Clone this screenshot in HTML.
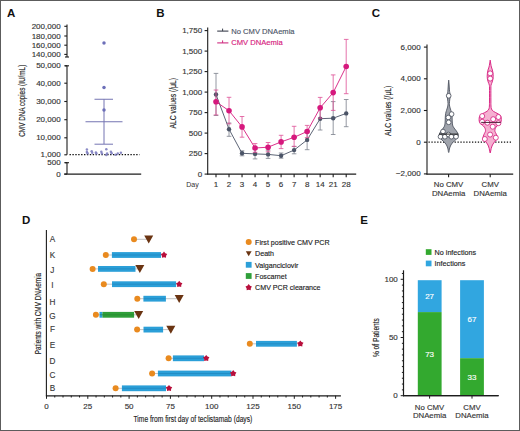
<!DOCTYPE html>
<html><head><meta charset="utf-8"><title>Figure</title>
<style>
html,body{margin:0;padding:0;background:#fff;}
body{width:520px;height:431px;overflow:hidden;font-family:"Liberation Sans", sans-serif;}
svg{display:block;}
svg text{font-family:"Liberation Sans", sans-serif;}
</style></head>
<body>
<svg width="520" height="431" viewBox="0 0 520 431">
<rect x="0" y="0" width="520" height="431" fill="#fff"/>
<text x="7.00" y="16.70" font-size="11.5" text-anchor="start" fill="#111" font-weight="bold" >A</text>
<text x="156.20" y="16.80" font-size="11.5" text-anchor="start" fill="#111" font-weight="bold" >B</text>
<text x="371.70" y="16.50" font-size="11.5" text-anchor="start" fill="#111" font-weight="bold" >C</text>
<text x="22.00" y="224.00" font-size="11.5" text-anchor="start" fill="#111" font-weight="bold" >D</text>
<text x="360.30" y="223.80" font-size="11.5" text-anchor="start" fill="#111" font-weight="bold" >E</text>
<line x1="67.00" y1="24.50" x2="67.00" y2="57.00" stroke="#1c1c1c" stroke-width="1.1" />
<line x1="65.00" y1="57.00" x2="69.00" y2="57.00" stroke="#1c1c1c" stroke-width="1.1" />
<line x1="67.00" y1="65.80" x2="67.00" y2="154.80" stroke="#1c1c1c" stroke-width="1.1" />
<line x1="65.00" y1="65.80" x2="69.00" y2="65.80" stroke="#1c1c1c" stroke-width="1.1" />
<line x1="67.00" y1="162.70" x2="67.00" y2="174.10" stroke="#1c1c1c" stroke-width="1.1" />
<line x1="65.00" y1="162.70" x2="69.00" y2="162.70" stroke="#1c1c1c" stroke-width="1.1" />
<line x1="64.30" y1="174.20" x2="141.20" y2="174.20" stroke="#1c1c1c" stroke-width="1.2" />
<line x1="64.30" y1="26.30" x2="67.00" y2="26.30" stroke="#1c1c1c" stroke-width="1.1" />
<text x="60.60" y="28.90" font-size="8" text-anchor="end" fill="#333" font-weight="normal" stroke="#333" stroke-width="0.14" >200,000</text>
<line x1="64.30" y1="36.00" x2="67.00" y2="36.00" stroke="#1c1c1c" stroke-width="1.1" />
<text x="60.60" y="38.60" font-size="8" text-anchor="end" fill="#333" font-weight="normal" stroke="#333" stroke-width="0.14" >180,000</text>
<line x1="64.30" y1="45.20" x2="67.00" y2="45.20" stroke="#1c1c1c" stroke-width="1.1" />
<text x="60.60" y="47.80" font-size="8" text-anchor="end" fill="#333" font-weight="normal" stroke="#333" stroke-width="0.14" >160,000</text>
<line x1="64.30" y1="54.40" x2="67.00" y2="54.40" stroke="#1c1c1c" stroke-width="1.1" />
<text x="60.60" y="57.00" font-size="8" text-anchor="end" fill="#333" font-weight="normal" stroke="#333" stroke-width="0.14" >140,000</text>
<line x1="64.30" y1="65.80" x2="67.00" y2="65.80" stroke="#1c1c1c" stroke-width="1.1" />
<text x="60.60" y="68.40" font-size="8" text-anchor="end" fill="#333" font-weight="normal" stroke="#333" stroke-width="0.14" >50,000</text>
<line x1="64.30" y1="83.20" x2="67.00" y2="83.20" stroke="#1c1c1c" stroke-width="1.1" />
<text x="60.60" y="85.80" font-size="8" text-anchor="end" fill="#333" font-weight="normal" stroke="#333" stroke-width="0.14" >40,000</text>
<line x1="64.30" y1="101.50" x2="67.00" y2="101.50" stroke="#1c1c1c" stroke-width="1.1" />
<text x="60.60" y="104.10" font-size="8" text-anchor="end" fill="#333" font-weight="normal" stroke="#333" stroke-width="0.14" >30,000</text>
<line x1="64.30" y1="119.70" x2="67.00" y2="119.70" stroke="#1c1c1c" stroke-width="1.1" />
<text x="60.60" y="122.30" font-size="8" text-anchor="end" fill="#333" font-weight="normal" stroke="#333" stroke-width="0.14" >20,000</text>
<line x1="64.30" y1="137.80" x2="67.00" y2="137.80" stroke="#1c1c1c" stroke-width="1.1" />
<text x="60.60" y="140.40" font-size="8" text-anchor="end" fill="#333" font-weight="normal" stroke="#333" stroke-width="0.14" >10,000</text>
<line x1="64.30" y1="154.80" x2="67.00" y2="154.80" stroke="#1c1c1c" stroke-width="1.1" />
<text x="60.60" y="157.40" font-size="8" text-anchor="end" fill="#333" font-weight="normal" stroke="#333" stroke-width="0.14" >1,000</text>
<line x1="64.30" y1="162.70" x2="67.00" y2="162.70" stroke="#1c1c1c" stroke-width="1.1" />
<text x="60.60" y="165.30" font-size="8" text-anchor="end" fill="#333" font-weight="normal" stroke="#333" stroke-width="0.14" >500</text>
<line x1="64.30" y1="174.10" x2="67.00" y2="174.10" stroke="#1c1c1c" stroke-width="1.1" />
<text x="60.60" y="176.70" font-size="8" text-anchor="end" fill="#333" font-weight="normal" stroke="#333" stroke-width="0.14" >0</text>
<text transform="translate(25.40,100.75) rotate(-90)" x="0" y="0" font-size="8.8" text-anchor="middle" fill="#222" stroke="#222" stroke-width="0.15" textLength="72" lengthAdjust="spacingAndGlyphs">CMV DNA copies (IU/mL)</text>
<line x1="69.50" y1="154.60" x2="139.50" y2="154.60" stroke="#111" stroke-width="1.4" stroke-dasharray="1.4 1.5"/>
<line x1="104.00" y1="99.25" x2="104.00" y2="144.00" stroke="#7474b2" stroke-width="1.0" />
<line x1="94.50" y1="99.25" x2="113.00" y2="99.25" stroke="#7474b2" stroke-width="1.0" />
<line x1="94.50" y1="144.20" x2="113.00" y2="144.20" stroke="#7474b2" stroke-width="1.0" />
<line x1="85.50" y1="121.75" x2="122.50" y2="121.75" stroke="#7474b2" stroke-width="1.0" />
<circle cx="104" cy="43" r="1.75" fill="#6c6fb8"/>
<circle cx="104" cy="87.5" r="1.75" fill="#6c6fb8"/>
<circle cx="104" cy="110" r="1.75" fill="#6c6fb8"/>
<circle cx="86.9" cy="149.5" r="1.25" fill="#7f80c0" opacity="0.9"/>
<circle cx="86.9" cy="151.9" r="1.25" fill="#7f80c0" opacity="0.9"/>
<circle cx="87.6" cy="153.2" r="1.25" fill="#7f80c0" opacity="0.9"/>
<circle cx="91.7" cy="151.3" r="1.25" fill="#7f80c0" opacity="0.9"/>
<circle cx="92.2" cy="152.8" r="1.25" fill="#7f80c0" opacity="0.9"/>
<circle cx="95.9" cy="152.5" r="1.25" fill="#7f80c0" opacity="0.9"/>
<circle cx="96.4" cy="153.6" r="1.25" fill="#7f80c0" opacity="0.9"/>
<circle cx="101.3" cy="151.7" r="1.25" fill="#7f80c0" opacity="0.9"/>
<circle cx="101.9" cy="153.4" r="1.25" fill="#7f80c0" opacity="0.9"/>
<circle cx="106.3" cy="149.2" r="1.25" fill="#7f80c0" opacity="0.9"/>
<circle cx="106.3" cy="155.0" r="1.25" fill="#7f80c0" opacity="0.9"/>
<circle cx="107.1" cy="153.4" r="1.25" fill="#7f80c0" opacity="0.9"/>
<circle cx="110.9" cy="151.7" r="1.25" fill="#7f80c0" opacity="0.9"/>
<circle cx="111.7" cy="153.2" r="1.25" fill="#7f80c0" opacity="0.9"/>
<circle cx="115.5" cy="154.8" r="1.25" fill="#7f80c0" opacity="0.9"/>
<circle cx="117.8" cy="153.6" r="1.25" fill="#7f80c0" opacity="0.9"/>
<circle cx="120.9" cy="152.8" r="1.25" fill="#7f80c0" opacity="0.9"/>
<line x1="207.70" y1="27.50" x2="207.70" y2="174.60" stroke="#1c1c1c" stroke-width="1.1" />
<line x1="207.20" y1="174.10" x2="356.20" y2="174.10" stroke="#1c1c1c" stroke-width="1.2" />
<line x1="204.60" y1="174.10" x2="207.70" y2="174.10" stroke="#1c1c1c" stroke-width="1.1" />
<text x="202.20" y="176.95" font-size="8" text-anchor="end" fill="#333" font-weight="normal" stroke="#333" stroke-width="0.14" >0</text>
<line x1="204.60" y1="153.60" x2="207.70" y2="153.60" stroke="#1c1c1c" stroke-width="1.1" />
<text x="202.20" y="156.45" font-size="8" text-anchor="end" fill="#333" font-weight="normal" stroke="#333" stroke-width="0.14" >250</text>
<line x1="204.60" y1="133.10" x2="207.70" y2="133.10" stroke="#1c1c1c" stroke-width="1.1" />
<text x="202.20" y="135.95" font-size="8" text-anchor="end" fill="#333" font-weight="normal" stroke="#333" stroke-width="0.14" >500</text>
<line x1="204.60" y1="112.60" x2="207.70" y2="112.60" stroke="#1c1c1c" stroke-width="1.1" />
<text x="202.20" y="115.45" font-size="8" text-anchor="end" fill="#333" font-weight="normal" stroke="#333" stroke-width="0.14" >750</text>
<line x1="204.60" y1="92.10" x2="207.70" y2="92.10" stroke="#1c1c1c" stroke-width="1.1" />
<text x="202.20" y="94.95" font-size="8" text-anchor="end" fill="#333" font-weight="normal" stroke="#333" stroke-width="0.14" >1,000</text>
<line x1="204.60" y1="71.60" x2="207.70" y2="71.60" stroke="#1c1c1c" stroke-width="1.1" />
<text x="202.20" y="74.45" font-size="8" text-anchor="end" fill="#333" font-weight="normal" stroke="#333" stroke-width="0.14" >1,250</text>
<line x1="204.60" y1="51.10" x2="207.70" y2="51.10" stroke="#1c1c1c" stroke-width="1.1" />
<text x="202.20" y="53.95" font-size="8" text-anchor="end" fill="#333" font-weight="normal" stroke="#333" stroke-width="0.14" >1,500</text>
<line x1="204.60" y1="30.60" x2="207.70" y2="30.60" stroke="#1c1c1c" stroke-width="1.1" />
<text x="202.20" y="33.45" font-size="8" text-anchor="end" fill="#333" font-weight="normal" stroke="#333" stroke-width="0.14" >1,750</text>
<line x1="216.00" y1="174.10" x2="216.00" y2="177.20" stroke="#1c1c1c" stroke-width="1.1" />
<text x="216.00" y="187.30" font-size="8" text-anchor="middle" fill="#333" font-weight="normal" stroke="#333" stroke-width="0.14" >1</text>
<line x1="229.02" y1="174.10" x2="229.02" y2="177.20" stroke="#1c1c1c" stroke-width="1.1" />
<text x="229.02" y="187.30" font-size="8" text-anchor="middle" fill="#333" font-weight="normal" stroke="#333" stroke-width="0.14" >2</text>
<line x1="242.04" y1="174.10" x2="242.04" y2="177.20" stroke="#1c1c1c" stroke-width="1.1" />
<text x="242.04" y="187.30" font-size="8" text-anchor="middle" fill="#333" font-weight="normal" stroke="#333" stroke-width="0.14" >3</text>
<line x1="255.06" y1="174.10" x2="255.06" y2="177.20" stroke="#1c1c1c" stroke-width="1.1" />
<text x="255.06" y="187.30" font-size="8" text-anchor="middle" fill="#333" font-weight="normal" stroke="#333" stroke-width="0.14" >4</text>
<line x1="268.08" y1="174.10" x2="268.08" y2="177.20" stroke="#1c1c1c" stroke-width="1.1" />
<text x="268.08" y="187.30" font-size="8" text-anchor="middle" fill="#333" font-weight="normal" stroke="#333" stroke-width="0.14" >5</text>
<line x1="281.10" y1="174.10" x2="281.10" y2="177.20" stroke="#1c1c1c" stroke-width="1.1" />
<text x="281.10" y="187.30" font-size="8" text-anchor="middle" fill="#333" font-weight="normal" stroke="#333" stroke-width="0.14" >6</text>
<line x1="294.12" y1="174.10" x2="294.12" y2="177.20" stroke="#1c1c1c" stroke-width="1.1" />
<text x="294.12" y="187.30" font-size="8" text-anchor="middle" fill="#333" font-weight="normal" stroke="#333" stroke-width="0.14" >7</text>
<line x1="307.14" y1="174.10" x2="307.14" y2="177.20" stroke="#1c1c1c" stroke-width="1.1" />
<text x="307.14" y="187.30" font-size="8" text-anchor="middle" fill="#333" font-weight="normal" stroke="#333" stroke-width="0.14" >8</text>
<line x1="320.16" y1="174.10" x2="320.16" y2="177.20" stroke="#1c1c1c" stroke-width="1.1" />
<text x="320.16" y="187.30" font-size="8" text-anchor="middle" fill="#333" font-weight="normal" stroke="#333" stroke-width="0.14" >14</text>
<line x1="333.18" y1="174.10" x2="333.18" y2="177.20" stroke="#1c1c1c" stroke-width="1.1" />
<text x="333.18" y="187.30" font-size="8" text-anchor="middle" fill="#333" font-weight="normal" stroke="#333" stroke-width="0.14" >21</text>
<line x1="346.20" y1="174.10" x2="346.20" y2="177.20" stroke="#1c1c1c" stroke-width="1.1" />
<text x="346.20" y="187.30" font-size="8" text-anchor="middle" fill="#333" font-weight="normal" stroke="#333" stroke-width="0.14" >28</text>
<text x="186.2" y="187.3" font-size="8" fill="#333" textLength="12.6" lengthAdjust="spacingAndGlyphs">Day</text>
<text transform="translate(175.60,103.25) rotate(-90)" x="0" y="0" font-size="8.8" text-anchor="middle" fill="#222" stroke="#222" stroke-width="0.15" textLength="50.5" lengthAdjust="spacingAndGlyphs">ALC values (/μL)</text>
<line x1="216.00" y1="73.40" x2="216.00" y2="115.50" stroke="#7a7f8a" stroke-width="0.8" />
<line x1="213.70" y1="73.40" x2="218.30" y2="73.40" stroke="#7a7f8a" stroke-width="0.8" />
<line x1="213.70" y1="115.50" x2="218.30" y2="115.50" stroke="#7a7f8a" stroke-width="0.8" />
<line x1="229.02" y1="123.00" x2="229.02" y2="136.30" stroke="#7a7f8a" stroke-width="0.8" />
<line x1="226.72" y1="123.00" x2="231.32" y2="123.00" stroke="#7a7f8a" stroke-width="0.8" />
<line x1="226.72" y1="136.30" x2="231.32" y2="136.30" stroke="#7a7f8a" stroke-width="0.8" />
<line x1="242.04" y1="150.80" x2="242.04" y2="155.80" stroke="#7a7f8a" stroke-width="0.8" />
<line x1="239.74" y1="150.80" x2="244.34" y2="150.80" stroke="#7a7f8a" stroke-width="0.8" />
<line x1="239.74" y1="155.80" x2="244.34" y2="155.80" stroke="#7a7f8a" stroke-width="0.8" />
<line x1="255.06" y1="149.00" x2="255.06" y2="158.90" stroke="#7a7f8a" stroke-width="0.8" />
<line x1="252.76" y1="149.00" x2="257.36" y2="149.00" stroke="#7a7f8a" stroke-width="0.8" />
<line x1="252.76" y1="158.90" x2="257.36" y2="158.90" stroke="#7a7f8a" stroke-width="0.8" />
<line x1="268.08" y1="150.20" x2="268.08" y2="158.40" stroke="#7a7f8a" stroke-width="0.8" />
<line x1="265.78" y1="150.20" x2="270.38" y2="150.20" stroke="#7a7f8a" stroke-width="0.8" />
<line x1="265.78" y1="158.40" x2="270.38" y2="158.40" stroke="#7a7f8a" stroke-width="0.8" />
<line x1="281.10" y1="153.00" x2="281.10" y2="158.20" stroke="#7a7f8a" stroke-width="0.8" />
<line x1="278.80" y1="153.00" x2="283.40" y2="153.00" stroke="#7a7f8a" stroke-width="0.8" />
<line x1="278.80" y1="158.20" x2="283.40" y2="158.20" stroke="#7a7f8a" stroke-width="0.8" />
<line x1="294.12" y1="146.40" x2="294.12" y2="153.80" stroke="#7a7f8a" stroke-width="0.8" />
<line x1="291.82" y1="146.40" x2="296.42" y2="146.40" stroke="#7a7f8a" stroke-width="0.8" />
<line x1="291.82" y1="153.80" x2="296.42" y2="153.80" stroke="#7a7f8a" stroke-width="0.8" />
<line x1="307.14" y1="130.20" x2="307.14" y2="149.70" stroke="#7a7f8a" stroke-width="0.8" />
<line x1="304.84" y1="130.20" x2="309.44" y2="130.20" stroke="#7a7f8a" stroke-width="0.8" />
<line x1="304.84" y1="149.70" x2="309.44" y2="149.70" stroke="#7a7f8a" stroke-width="0.8" />
<line x1="320.16" y1="107.40" x2="320.16" y2="130.00" stroke="#7a7f8a" stroke-width="0.8" />
<line x1="317.86" y1="107.40" x2="322.46" y2="107.40" stroke="#7a7f8a" stroke-width="0.8" />
<line x1="317.86" y1="130.00" x2="322.46" y2="130.00" stroke="#7a7f8a" stroke-width="0.8" />
<line x1="333.18" y1="101.60" x2="333.18" y2="134.50" stroke="#7a7f8a" stroke-width="0.8" />
<line x1="330.88" y1="101.60" x2="335.48" y2="101.60" stroke="#7a7f8a" stroke-width="0.8" />
<line x1="330.88" y1="134.50" x2="335.48" y2="134.50" stroke="#7a7f8a" stroke-width="0.8" />
<line x1="346.20" y1="99.50" x2="346.20" y2="126.70" stroke="#7a7f8a" stroke-width="0.8" />
<line x1="343.90" y1="99.50" x2="348.50" y2="99.50" stroke="#7a7f8a" stroke-width="0.8" />
<line x1="343.90" y1="126.70" x2="348.50" y2="126.70" stroke="#7a7f8a" stroke-width="0.8" />
<polyline points="216.00,94.50 229.02,129.20 242.04,153.30 255.06,153.90 268.08,154.40 281.10,155.70 294.12,150.10 307.14,139.90 320.16,118.70 333.18,118.20 346.20,113.40" fill="none" stroke="#4b5467" stroke-width="0.9"/>
<circle cx="216.00" cy="94.50" r="2.2" fill="#4b5467"/>
<circle cx="229.02" cy="129.20" r="2.2" fill="#4b5467"/>
<circle cx="242.04" cy="153.30" r="2.2" fill="#4b5467"/>
<circle cx="255.06" cy="153.90" r="2.2" fill="#4b5467"/>
<circle cx="268.08" cy="154.40" r="2.2" fill="#4b5467"/>
<circle cx="281.10" cy="155.70" r="2.2" fill="#4b5467"/>
<circle cx="294.12" cy="150.10" r="2.2" fill="#4b5467"/>
<circle cx="307.14" cy="139.90" r="2.2" fill="#4b5467"/>
<circle cx="320.16" cy="118.70" r="2.2" fill="#4b5467"/>
<circle cx="333.18" cy="118.20" r="2.2" fill="#4b5467"/>
<circle cx="346.20" cy="113.40" r="2.2" fill="#4b5467"/>
<line x1="216.00" y1="90.00" x2="216.00" y2="114.90" stroke="#de4f96" stroke-width="0.8" />
<line x1="213.70" y1="90.00" x2="218.30" y2="90.00" stroke="#de4f96" stroke-width="0.8" />
<line x1="213.70" y1="114.90" x2="218.30" y2="114.90" stroke="#de4f96" stroke-width="0.8" />
<line x1="229.02" y1="97.30" x2="229.02" y2="123.80" stroke="#de4f96" stroke-width="0.8" />
<line x1="226.72" y1="97.30" x2="231.32" y2="97.30" stroke="#de4f96" stroke-width="0.8" />
<line x1="226.72" y1="123.80" x2="231.32" y2="123.80" stroke="#de4f96" stroke-width="0.8" />
<line x1="242.04" y1="116.50" x2="242.04" y2="137.20" stroke="#de4f96" stroke-width="0.8" />
<line x1="239.74" y1="116.50" x2="244.34" y2="116.50" stroke="#de4f96" stroke-width="0.8" />
<line x1="239.74" y1="137.20" x2="244.34" y2="137.20" stroke="#de4f96" stroke-width="0.8" />
<line x1="255.06" y1="143.60" x2="255.06" y2="152.30" stroke="#de4f96" stroke-width="0.8" />
<line x1="252.76" y1="143.60" x2="257.36" y2="143.60" stroke="#de4f96" stroke-width="0.8" />
<line x1="252.76" y1="152.30" x2="257.36" y2="152.30" stroke="#de4f96" stroke-width="0.8" />
<line x1="268.08" y1="142.50" x2="268.08" y2="151.80" stroke="#de4f96" stroke-width="0.8" />
<line x1="265.78" y1="142.50" x2="270.38" y2="142.50" stroke="#de4f96" stroke-width="0.8" />
<line x1="265.78" y1="151.80" x2="270.38" y2="151.80" stroke="#de4f96" stroke-width="0.8" />
<line x1="281.10" y1="135.30" x2="281.10" y2="148.60" stroke="#de4f96" stroke-width="0.8" />
<line x1="278.80" y1="135.30" x2="283.40" y2="135.30" stroke="#de4f96" stroke-width="0.8" />
<line x1="278.80" y1="148.60" x2="283.40" y2="148.60" stroke="#de4f96" stroke-width="0.8" />
<line x1="294.12" y1="126.30" x2="294.12" y2="146.40" stroke="#de4f96" stroke-width="0.8" />
<line x1="291.82" y1="126.30" x2="296.42" y2="126.30" stroke="#de4f96" stroke-width="0.8" />
<line x1="291.82" y1="146.40" x2="296.42" y2="146.40" stroke="#de4f96" stroke-width="0.8" />
<line x1="307.14" y1="125.40" x2="307.14" y2="137.60" stroke="#de4f96" stroke-width="0.8" />
<line x1="304.84" y1="125.40" x2="309.44" y2="125.40" stroke="#de4f96" stroke-width="0.8" />
<line x1="304.84" y1="137.60" x2="309.44" y2="137.60" stroke="#de4f96" stroke-width="0.8" />
<line x1="320.16" y1="97.40" x2="320.16" y2="118.20" stroke="#de4f96" stroke-width="0.8" />
<line x1="317.86" y1="97.40" x2="322.46" y2="97.40" stroke="#de4f96" stroke-width="0.8" />
<line x1="317.86" y1="118.20" x2="322.46" y2="118.20" stroke="#de4f96" stroke-width="0.8" />
<line x1="333.18" y1="74.90" x2="333.18" y2="110.40" stroke="#de4f96" stroke-width="0.8" />
<line x1="330.88" y1="74.90" x2="335.48" y2="74.90" stroke="#de4f96" stroke-width="0.8" />
<line x1="330.88" y1="110.40" x2="335.48" y2="110.40" stroke="#de4f96" stroke-width="0.8" />
<line x1="346.20" y1="39.40" x2="346.20" y2="93.70" stroke="#de4f96" stroke-width="0.8" />
<line x1="343.90" y1="39.40" x2="348.50" y2="39.40" stroke="#de4f96" stroke-width="0.8" />
<line x1="343.90" y1="93.70" x2="348.50" y2="93.70" stroke="#de4f96" stroke-width="0.8" />
<polyline points="216.00,101.80 229.02,110.70 242.04,126.90 255.06,148.00 268.08,147.20 281.10,141.90 294.12,137.30 307.14,131.50 320.16,107.80 333.18,92.60 346.20,66.50" fill="none" stroke="#d6187d" stroke-width="0.9"/>
<circle cx="216.00" cy="101.80" r="2.8" fill="#d6187d"/>
<circle cx="229.02" cy="110.70" r="2.8" fill="#d6187d"/>
<circle cx="242.04" cy="126.90" r="2.8" fill="#d6187d"/>
<circle cx="255.06" cy="148.00" r="2.8" fill="#d6187d"/>
<circle cx="268.08" cy="147.20" r="2.8" fill="#d6187d"/>
<circle cx="281.10" cy="141.90" r="2.8" fill="#d6187d"/>
<circle cx="294.12" cy="137.30" r="2.8" fill="#d6187d"/>
<circle cx="307.14" cy="131.50" r="2.8" fill="#d6187d"/>
<circle cx="320.16" cy="107.80" r="2.8" fill="#d6187d"/>
<circle cx="333.18" cy="92.60" r="2.8" fill="#d6187d"/>
<circle cx="346.20" cy="66.50" r="2.8" fill="#d6187d"/>
<line x1="217.20" y1="31.10" x2="228.40" y2="31.10" stroke="#3a3f4d" stroke-width="1.1" />
<line x1="222.60" y1="28.60" x2="222.60" y2="31.10" stroke="#3a3f4d" stroke-width="1.0" />
<text x="231.30" y="33.70" font-size="7.6" text-anchor="start" fill="#4b5467" font-weight="normal" stroke="#4b5467" stroke-width="0.14" >No CMV DNAemia</text>
<line x1="217.20" y1="42.90" x2="228.40" y2="42.90" stroke="#cf2a7f" stroke-width="1.1" />
<line x1="222.60" y1="40.40" x2="222.60" y2="42.90" stroke="#cf2a7f" stroke-width="1.0" />
<text x="231.30" y="45.40" font-size="7.6" text-anchor="start" fill="#d6187d" font-weight="normal" stroke="#d6187d" stroke-width="0.14" >CMV DNAemia</text>
<line x1="427.00" y1="44.50" x2="427.00" y2="174.60" stroke="#1c1c1c" stroke-width="1.1" />
<line x1="426.50" y1="174.10" x2="513.20" y2="174.10" stroke="#1c1c1c" stroke-width="1.2" />
<line x1="423.90" y1="47.10" x2="427.00" y2="47.10" stroke="#1c1c1c" stroke-width="1.1" />
<text x="420.60" y="49.65" font-size="8" text-anchor="end" fill="#333" font-weight="normal" stroke="#333" stroke-width="0.14" >6,000</text>
<line x1="423.90" y1="78.80" x2="427.00" y2="78.80" stroke="#1c1c1c" stroke-width="1.1" />
<text x="420.60" y="81.35" font-size="8" text-anchor="end" fill="#333" font-weight="normal" stroke="#333" stroke-width="0.14" >4,000</text>
<line x1="423.90" y1="110.50" x2="427.00" y2="110.50" stroke="#1c1c1c" stroke-width="1.1" />
<text x="420.60" y="113.05" font-size="8" text-anchor="end" fill="#333" font-weight="normal" stroke="#333" stroke-width="0.14" >2,000</text>
<line x1="423.90" y1="142.20" x2="427.00" y2="142.20" stroke="#1c1c1c" stroke-width="1.1" />
<text x="420.60" y="144.75" font-size="8" text-anchor="end" fill="#333" font-weight="normal" stroke="#333" stroke-width="0.14" >0</text>
<line x1="423.90" y1="173.90" x2="427.00" y2="173.90" stroke="#1c1c1c" stroke-width="1.1" />
<text x="420.60" y="176.45" font-size="8" text-anchor="end" fill="#333" font-weight="normal" stroke="#333" stroke-width="0.14" >−2,000</text>
<text transform="translate(390.60,110.80) rotate(-90)" x="0" y="0" font-size="8.8" text-anchor="middle" fill="#222" stroke="#222" stroke-width="0.15" textLength="50.2" lengthAdjust="spacingAndGlyphs">ALC values (/μL)</text>
<line x1="448.60" y1="174.10" x2="448.60" y2="177.20" stroke="#1c1c1c" stroke-width="1.1" />
<line x1="490.20" y1="174.10" x2="490.20" y2="177.20" stroke="#1c1c1c" stroke-width="1.1" />
<text x="448.60" y="186.50" font-size="7.8" text-anchor="middle" fill="#333" font-weight="normal" stroke="#333" stroke-width="0.14" >No CMV</text>
<text x="448.60" y="195.90" font-size="7.8" text-anchor="middle" fill="#333" font-weight="normal" stroke="#333" stroke-width="0.14" >DNAemia</text>
<text x="490.20" y="186.50" font-size="7.8" text-anchor="middle" fill="#333" font-weight="normal" stroke="#333" stroke-width="0.14" >CMV</text>
<text x="490.20" y="195.90" font-size="7.8" text-anchor="middle" fill="#333" font-weight="normal" stroke="#333" stroke-width="0.14" >DNAemia</text>
<line x1="428.50" y1="142.20" x2="511.00" y2="142.20" stroke="#111" stroke-width="1.3" stroke-dasharray="1.3 1.6"/>
<path d="M448.70,80.10 C448.76,80.75 448.95,82.68 449.05,84.00 C449.15,85.32 449.21,86.75 449.30,88.00 C449.39,89.25 449.48,90.58 449.60,91.50 C449.72,92.42 449.88,92.78 450.00,93.50 C450.12,94.22 450.30,95.05 450.30,95.80 C450.30,96.55 450.10,97.30 450.00,98.00 C449.90,98.70 449.80,99.07 449.70,100.00 C449.60,100.93 449.42,102.60 449.40,103.60 C449.38,104.60 449.48,105.27 449.60,106.00 C449.72,106.73 449.88,107.27 450.10,108.00 C450.32,108.73 450.63,109.52 450.90,110.40 C451.17,111.28 451.50,112.20 451.70,113.30 C451.90,114.40 452.02,115.72 452.10,117.00 C452.18,118.28 452.12,119.67 452.20,121.00 C452.28,122.33 452.40,124.00 452.60,125.00 C452.80,126.00 453.03,126.33 453.40,127.00 C453.77,127.67 454.30,128.33 454.80,129.00 C455.30,129.67 455.93,130.33 456.40,131.00 C456.87,131.67 457.30,132.33 457.60,133.00 C457.90,133.67 458.15,134.33 458.20,135.00 C458.25,135.67 458.18,136.33 457.90,137.00 C457.62,137.67 457.10,138.33 456.50,139.00 C455.90,139.67 455.00,140.33 454.30,141.00 C453.60,141.67 452.87,142.33 452.30,143.00 C451.73,143.67 451.28,144.33 450.90,145.00 C450.52,145.67 450.25,146.33 450.00,147.00 C449.75,147.67 449.56,148.25 449.40,149.00 C449.24,149.75 449.17,150.92 449.05,151.50 C448.93,152.08 448.76,152.33 448.70,152.50 C448.64,152.33 448.47,152.08 448.35,151.50 C448.23,150.92 448.16,149.75 448.00,149.00 C447.84,148.25 447.65,147.67 447.40,147.00 C447.15,146.33 446.88,145.67 446.50,145.00 C446.12,144.33 445.67,143.67 445.10,143.00 C444.53,142.33 443.80,141.67 443.10,141.00 C442.40,140.33 441.50,139.67 440.90,139.00 C440.30,138.33 439.78,137.67 439.50,137.00 C439.22,136.33 439.15,135.67 439.20,135.00 C439.25,134.33 439.50,133.67 439.80,133.00 C440.10,132.33 440.53,131.67 441.00,131.00 C441.47,130.33 442.10,129.67 442.60,129.00 C443.10,128.33 443.63,127.67 444.00,127.00 C444.37,126.33 444.60,126.00 444.80,125.00 C445.00,124.00 445.12,122.33 445.20,121.00 C445.28,119.67 445.22,118.28 445.30,117.00 C445.38,115.72 445.50,114.40 445.70,113.30 C445.90,112.20 446.23,111.28 446.50,110.40 C446.77,109.52 447.08,108.73 447.30,108.00 C447.52,107.27 447.68,106.73 447.80,106.00 C447.92,105.27 448.02,104.60 448.00,103.60 C447.98,102.60 447.80,100.93 447.70,100.00 C447.60,99.07 447.50,98.70 447.40,98.00 C447.30,97.30 447.10,96.55 447.10,95.80 C447.10,95.05 447.28,94.22 447.40,93.50 C447.52,92.78 447.68,92.42 447.80,91.50 C447.92,90.58 448.01,89.25 448.10,88.00 C448.19,86.75 448.25,85.32 448.35,84.00 C448.45,82.68 448.64,80.75 448.70,80.10 Z" fill="#a0a4ac" stroke="#4f5561" stroke-width="0.9" stroke-linejoin="round"/>
<path d="M490.20,60.10 C490.30,60.75 490.60,62.85 490.80,64.00 C491.00,65.15 491.13,66.00 491.40,67.00 C491.67,68.00 492.13,69.00 492.40,70.00 C492.67,71.00 492.87,71.95 493.00,73.00 C493.13,74.05 493.20,75.30 493.20,76.30 C493.20,77.30 493.17,78.05 493.00,79.00 C492.83,79.95 492.52,81.00 492.20,82.00 C491.88,83.00 491.32,84.00 491.10,85.00 C490.88,86.00 490.93,85.50 490.90,88.00 C490.87,90.50 490.88,97.00 490.90,100.00 C490.92,103.00 490.90,104.50 491.00,106.00 C491.10,107.50 491.10,108.12 491.50,109.00 C491.90,109.88 492.28,110.48 493.40,111.30 C494.52,112.12 497.02,113.17 498.20,113.90 C499.38,114.63 500.00,115.02 500.50,115.70 C501.00,116.38 501.08,117.12 501.20,118.00 C501.32,118.88 501.37,120.10 501.20,121.00 C501.03,121.90 500.70,122.73 500.20,123.40 C499.70,124.07 498.90,124.38 498.20,125.00 C497.50,125.62 496.53,126.35 496.00,127.10 C495.47,127.85 495.17,128.77 495.00,129.50 C494.83,130.23 494.83,130.83 495.00,131.50 C495.17,132.17 495.67,132.75 496.00,133.50 C496.33,134.25 496.80,135.25 497.00,136.00 C497.20,136.75 497.33,137.33 497.20,138.00 C497.07,138.67 496.65,139.33 496.20,140.00 C495.75,140.67 495.03,141.33 494.50,142.00 C493.97,142.67 493.42,143.33 493.00,144.00 C492.58,144.67 492.30,145.25 492.00,146.00 C491.70,146.75 491.42,147.67 491.20,148.50 C490.98,149.33 490.87,150.25 490.70,151.00 C490.53,151.75 490.28,152.67 490.20,153.00 C490.12,152.67 489.87,151.75 489.70,151.00 C489.53,150.25 489.42,149.33 489.20,148.50 C488.98,147.67 488.70,146.75 488.40,146.00 C488.10,145.25 487.82,144.67 487.40,144.00 C486.98,143.33 486.43,142.67 485.90,142.00 C485.37,141.33 484.65,140.67 484.20,140.00 C483.75,139.33 483.33,138.67 483.20,138.00 C483.07,137.33 483.20,136.75 483.40,136.00 C483.60,135.25 484.07,134.25 484.40,133.50 C484.73,132.75 485.23,132.17 485.40,131.50 C485.57,130.83 485.57,130.23 485.40,129.50 C485.23,128.77 484.93,127.85 484.40,127.10 C483.87,126.35 482.90,125.62 482.20,125.00 C481.50,124.38 480.70,124.07 480.20,123.40 C479.70,122.73 479.37,121.90 479.20,121.00 C479.03,120.10 479.08,118.88 479.20,118.00 C479.32,117.12 479.40,116.38 479.90,115.70 C480.40,115.02 481.02,114.63 482.20,113.90 C483.38,113.17 485.88,112.12 487.00,111.30 C488.12,110.48 488.50,109.88 488.90,109.00 C489.30,108.12 489.30,107.50 489.40,106.00 C489.50,104.50 489.48,103.00 489.50,100.00 C489.52,97.00 489.53,90.50 489.50,88.00 C489.47,85.50 489.52,86.00 489.30,85.00 C489.08,84.00 488.52,83.00 488.20,82.00 C487.88,81.00 487.57,79.95 487.40,79.00 C487.23,78.05 487.20,77.30 487.20,76.30 C487.20,75.30 487.27,74.05 487.40,73.00 C487.53,71.95 487.73,71.00 488.00,70.00 C488.27,69.00 488.73,68.00 489.00,67.00 C489.27,66.00 489.40,65.15 489.60,64.00 C489.80,62.85 490.10,60.75 490.20,60.10 Z" fill="#f5b0d1" stroke="#d6187d" stroke-width="0.9" stroke-linejoin="round"/>
<circle cx="448.7" cy="95.8" r="2.35" fill="#fff" stroke="#4f5561" stroke-width="0.85"/>
<circle cx="451.6" cy="114.1" r="2.35" fill="#fff" stroke="#4f5561" stroke-width="0.85"/>
<circle cx="448.3" cy="117.5" r="2.35" fill="#fff" stroke="#4f5561" stroke-width="0.85"/>
<circle cx="448.7" cy="122.3" r="2.35" fill="#fff" stroke="#4f5561" stroke-width="0.85"/>
<circle cx="443" cy="131.5" r="2.35" fill="#fff" stroke="#4f5561" stroke-width="0.85"/>
<circle cx="440.5" cy="136.7" r="2.35" fill="#fff" stroke="#4f5561" stroke-width="0.85"/>
<circle cx="444.9" cy="136.7" r="2.35" fill="#fff" stroke="#4f5561" stroke-width="0.85"/>
<circle cx="448.4" cy="134.5" r="2.35" fill="#fff" stroke="#4f5561" stroke-width="0.85"/>
<circle cx="451.4" cy="136.7" r="2.35" fill="#fff" stroke="#4f5561" stroke-width="0.85"/>
<circle cx="456" cy="136.7" r="2.35" fill="#fff" stroke="#4f5561" stroke-width="0.85"/>
<circle cx="490.2" cy="73.4" r="2.5" fill="#fff" stroke="#d41b7c" stroke-width="0.8"/>
<circle cx="490.2" cy="78.6" r="2.5" fill="#fff" stroke="#d41b7c" stroke-width="0.8"/>
<circle cx="482.2" cy="116.1" r="2.5" fill="#fff" stroke="#d41b7c" stroke-width="0.8"/>
<circle cx="498.4" cy="117.0" r="2.5" fill="#fff" stroke="#d41b7c" stroke-width="0.8"/>
<circle cx="493.2" cy="119.2" r="2.5" fill="#fff" stroke="#d41b7c" stroke-width="0.8"/>
<circle cx="482.2" cy="121.8" r="2.5" fill="#fff" stroke="#d41b7c" stroke-width="0.8"/>
<circle cx="487.4" cy="122.7" r="2.5" fill="#fff" stroke="#d41b7c" stroke-width="0.8"/>
<circle cx="498.4" cy="123.2" r="2.5" fill="#fff" stroke="#d41b7c" stroke-width="0.8"/>
<circle cx="492.7" cy="126.7" r="2.5" fill="#fff" stroke="#d41b7c" stroke-width="0.8"/>
<circle cx="490.1" cy="134.6" r="2.5" fill="#fff" stroke="#d41b7c" stroke-width="0.8"/>
<circle cx="484.8" cy="139.0" r="2.5" fill="#fff" stroke="#d41b7c" stroke-width="0.8"/>
<circle cx="495.8" cy="137.7" r="2.5" fill="#fff" stroke="#d41b7c" stroke-width="0.8"/>
<line x1="439.00" y1="134.10" x2="458.30" y2="134.10" stroke="#222" stroke-width="1.0" />
<line x1="481.20" y1="122.40" x2="500.70" y2="122.40" stroke="#4a2038" stroke-width="1.0" />
<line x1="46.40" y1="229.90" x2="46.40" y2="396.20" stroke="#1c1c1c" stroke-width="1.1" />
<line x1="45.90" y1="395.80" x2="340.90" y2="395.80" stroke="#1c1c1c" stroke-width="1.2" />
<line x1="46.50" y1="395.70" x2="46.50" y2="398.80" stroke="#1c1c1c" stroke-width="1.0" />
<text x="46.50" y="408.90" font-size="8" text-anchor="middle" fill="#333" font-weight="normal" stroke="#333" stroke-width="0.14" >0</text>
<line x1="54.76" y1="395.70" x2="54.76" y2="397.50" stroke="#1c1c1c" stroke-width="1.0" />
<line x1="63.02" y1="395.70" x2="63.02" y2="397.50" stroke="#1c1c1c" stroke-width="1.0" />
<line x1="71.28" y1="395.70" x2="71.28" y2="397.50" stroke="#1c1c1c" stroke-width="1.0" />
<line x1="79.54" y1="395.70" x2="79.54" y2="397.50" stroke="#1c1c1c" stroke-width="1.0" />
<line x1="87.80" y1="395.70" x2="87.80" y2="398.80" stroke="#1c1c1c" stroke-width="1.0" />
<text x="87.80" y="408.90" font-size="8" text-anchor="middle" fill="#333" font-weight="normal" stroke="#333" stroke-width="0.14" >25</text>
<line x1="96.06" y1="395.70" x2="96.06" y2="397.50" stroke="#1c1c1c" stroke-width="1.0" />
<line x1="104.32" y1="395.70" x2="104.32" y2="397.50" stroke="#1c1c1c" stroke-width="1.0" />
<line x1="112.58" y1="395.70" x2="112.58" y2="397.50" stroke="#1c1c1c" stroke-width="1.0" />
<line x1="120.84" y1="395.70" x2="120.84" y2="397.50" stroke="#1c1c1c" stroke-width="1.0" />
<line x1="129.10" y1="395.70" x2="129.10" y2="398.80" stroke="#1c1c1c" stroke-width="1.0" />
<text x="129.10" y="408.90" font-size="8" text-anchor="middle" fill="#333" font-weight="normal" stroke="#333" stroke-width="0.14" >50</text>
<line x1="137.36" y1="395.70" x2="137.36" y2="397.50" stroke="#1c1c1c" stroke-width="1.0" />
<line x1="145.62" y1="395.70" x2="145.62" y2="397.50" stroke="#1c1c1c" stroke-width="1.0" />
<line x1="153.88" y1="395.70" x2="153.88" y2="397.50" stroke="#1c1c1c" stroke-width="1.0" />
<line x1="162.14" y1="395.70" x2="162.14" y2="397.50" stroke="#1c1c1c" stroke-width="1.0" />
<line x1="170.40" y1="395.70" x2="170.40" y2="398.80" stroke="#1c1c1c" stroke-width="1.0" />
<text x="170.40" y="408.90" font-size="8" text-anchor="middle" fill="#333" font-weight="normal" stroke="#333" stroke-width="0.14" >75</text>
<line x1="178.66" y1="395.70" x2="178.66" y2="397.50" stroke="#1c1c1c" stroke-width="1.0" />
<line x1="186.92" y1="395.70" x2="186.92" y2="397.50" stroke="#1c1c1c" stroke-width="1.0" />
<line x1="195.18" y1="395.70" x2="195.18" y2="397.50" stroke="#1c1c1c" stroke-width="1.0" />
<line x1="203.44" y1="395.70" x2="203.44" y2="397.50" stroke="#1c1c1c" stroke-width="1.0" />
<line x1="211.70" y1="395.70" x2="211.70" y2="398.80" stroke="#1c1c1c" stroke-width="1.0" />
<text x="211.70" y="408.90" font-size="8" text-anchor="middle" fill="#333" font-weight="normal" stroke="#333" stroke-width="0.14" >100</text>
<line x1="219.96" y1="395.70" x2="219.96" y2="397.50" stroke="#1c1c1c" stroke-width="1.0" />
<line x1="228.22" y1="395.70" x2="228.22" y2="397.50" stroke="#1c1c1c" stroke-width="1.0" />
<line x1="236.48" y1="395.70" x2="236.48" y2="397.50" stroke="#1c1c1c" stroke-width="1.0" />
<line x1="244.74" y1="395.70" x2="244.74" y2="397.50" stroke="#1c1c1c" stroke-width="1.0" />
<line x1="253.00" y1="395.70" x2="253.00" y2="398.80" stroke="#1c1c1c" stroke-width="1.0" />
<text x="253.00" y="408.90" font-size="8" text-anchor="middle" fill="#333" font-weight="normal" stroke="#333" stroke-width="0.14" >125</text>
<line x1="261.26" y1="395.70" x2="261.26" y2="397.50" stroke="#1c1c1c" stroke-width="1.0" />
<line x1="269.52" y1="395.70" x2="269.52" y2="397.50" stroke="#1c1c1c" stroke-width="1.0" />
<line x1="277.78" y1="395.70" x2="277.78" y2="397.50" stroke="#1c1c1c" stroke-width="1.0" />
<line x1="286.04" y1="395.70" x2="286.04" y2="397.50" stroke="#1c1c1c" stroke-width="1.0" />
<line x1="294.30" y1="395.70" x2="294.30" y2="398.80" stroke="#1c1c1c" stroke-width="1.0" />
<text x="294.30" y="408.90" font-size="8" text-anchor="middle" fill="#333" font-weight="normal" stroke="#333" stroke-width="0.14" >150</text>
<line x1="302.56" y1="395.70" x2="302.56" y2="397.50" stroke="#1c1c1c" stroke-width="1.0" />
<line x1="310.82" y1="395.70" x2="310.82" y2="397.50" stroke="#1c1c1c" stroke-width="1.0" />
<line x1="319.08" y1="395.70" x2="319.08" y2="397.50" stroke="#1c1c1c" stroke-width="1.0" />
<line x1="327.34" y1="395.70" x2="327.34" y2="397.50" stroke="#1c1c1c" stroke-width="1.0" />
<line x1="335.60" y1="395.70" x2="335.60" y2="398.80" stroke="#1c1c1c" stroke-width="1.0" />
<text x="335.60" y="408.90" font-size="8" text-anchor="middle" fill="#333" font-weight="normal" stroke="#333" stroke-width="0.14" >175</text>
<text x="192.90" y="421.9" font-size="9.2" text-anchor="middle" fill="#222" stroke="#222" stroke-width="0.15" textLength="118.8" lengthAdjust="spacingAndGlyphs">Time from first day of teclistamab (days)</text>
<text transform="translate(40.70,313.60) rotate(-90)" x="0" y="0" font-size="8.8" text-anchor="middle" fill="#222" stroke="#222" stroke-width="0.15" textLength="81.5" lengthAdjust="spacingAndGlyphs">Patients with CMV DNAemia</text>
<text x="52.40" y="241.95" font-size="8.2" text-anchor="middle" fill="#3a3a3a" font-weight="normal" stroke="#3a3a3a" stroke-width="0.14" >A</text>
<text x="52.40" y="258.25" font-size="8.2" text-anchor="middle" fill="#3a3a3a" font-weight="normal" stroke="#3a3a3a" stroke-width="0.14" >K</text>
<text x="52.40" y="273.25" font-size="8.2" text-anchor="middle" fill="#3a3a3a" font-weight="normal" stroke="#3a3a3a" stroke-width="0.14" >J</text>
<text x="52.40" y="288.25" font-size="8.2" text-anchor="middle" fill="#3a3a3a" font-weight="normal" stroke="#3a3a3a" stroke-width="0.14" >I</text>
<text x="52.40" y="304.55" font-size="8.2" text-anchor="middle" fill="#3a3a3a" font-weight="normal" stroke="#3a3a3a" stroke-width="0.14" >H</text>
<text x="52.40" y="318.55" font-size="8.2" text-anchor="middle" fill="#3a3a3a" font-weight="normal" stroke="#3a3a3a" stroke-width="0.14" >G</text>
<text x="52.40" y="331.95" font-size="8.2" text-anchor="middle" fill="#3a3a3a" font-weight="normal" stroke="#3a3a3a" stroke-width="0.14" >F</text>
<text x="52.40" y="347.75" font-size="8.2" text-anchor="middle" fill="#3a3a3a" font-weight="normal" stroke="#3a3a3a" stroke-width="0.14" >E</text>
<text x="52.40" y="363.65" font-size="8.2" text-anchor="middle" fill="#3a3a3a" font-weight="normal" stroke="#3a3a3a" stroke-width="0.14" >D</text>
<text x="52.40" y="377.55" font-size="8.2" text-anchor="middle" fill="#3a3a3a" font-weight="normal" stroke="#3a3a3a" stroke-width="0.14" >C</text>
<text x="52.40" y="390.75" font-size="8.2" text-anchor="middle" fill="#3a3a3a" font-weight="normal" stroke="#3a3a3a" stroke-width="0.14" >B</text>
<line x1="134.00" y1="239.30" x2="148.70" y2="239.30" stroke="#9a9a9a" stroke-width="0.6" />
<circle cx="134.00" cy="239.30" r="3.0" fill="#e98a1f"/>
<path d="M144.20,235.50 L153.20,235.50 L148.70,243.50 Z" fill="#6a3412"/>
<line x1="105.80" y1="255.00" x2="164.00" y2="255.00" stroke="#9a9a9a" stroke-width="0.6" />
<rect x="111.90" y="252.10" width="49.10" height="5.8" fill="#2b9fd8"/>
<line x1="112.40" y1="255.00" x2="160.50" y2="255.00" stroke="#1b7db5" stroke-width="0.7" opacity="0.75"/>
<circle cx="105.80" cy="255.00" r="3.0" fill="#e98a1f"/>
<polygon points="164.00,251.60 165.29,253.22 167.23,253.95 166.09,255.68 166.00,257.75 164.00,257.20 162.00,257.75 161.91,255.68 160.77,253.95 162.71,253.22" fill="#b80f3c"/>
<line x1="92.60" y1="268.90" x2="139.80" y2="268.90" stroke="#9a9a9a" stroke-width="0.6" />
<rect x="98.00" y="266.00" width="37.50" height="5.8" fill="#2b9fd8"/>
<line x1="98.50" y1="268.90" x2="135.00" y2="268.90" stroke="#1b7db5" stroke-width="0.7" opacity="0.75"/>
<circle cx="92.60" cy="268.90" r="3.0" fill="#e98a1f"/>
<path d="M135.30,265.10 L144.30,265.10 L139.80,273.10 Z" fill="#6a3412"/>
<line x1="103.80" y1="284.20" x2="179.20" y2="284.20" stroke="#9a9a9a" stroke-width="0.6" />
<rect x="112.00" y="281.30" width="64.10" height="5.8" fill="#2b9fd8"/>
<line x1="112.50" y1="284.20" x2="175.60" y2="284.20" stroke="#1b7db5" stroke-width="0.7" opacity="0.75"/>
<circle cx="103.80" cy="284.20" r="3.0" fill="#e98a1f"/>
<polygon points="179.20,280.80 180.49,282.42 182.43,283.15 181.29,284.88 181.20,286.95 179.20,286.40 177.20,286.95 177.11,284.88 175.97,283.15 177.91,282.42" fill="#b80f3c"/>
<line x1="137.30" y1="298.70" x2="179.20" y2="298.70" stroke="#9a9a9a" stroke-width="0.6" />
<rect x="143.40" y="295.80" width="22.50" height="5.8" fill="#2b9fd8"/>
<line x1="143.90" y1="298.70" x2="165.40" y2="298.70" stroke="#1b7db5" stroke-width="0.7" opacity="0.75"/>
<circle cx="137.30" cy="298.70" r="3.0" fill="#e98a1f"/>
<path d="M174.70,294.90 L183.70,294.90 L179.20,302.90 Z" fill="#6a3412"/>
<line x1="95.90" y1="314.80" x2="138.70" y2="314.80" stroke="#9a9a9a" stroke-width="0.6" />
<rect x="99.50" y="311.90" width="2.90" height="5.8" fill="#2b9fd8"/>
<rect x="102.40" y="311.90" width="31.70" height="5.8" fill="#2f9f3a"/>
<line x1="100.00" y1="314.80" x2="133.60" y2="314.80" stroke="#1f7f2a" stroke-width="0.7" opacity="0.75"/>
<circle cx="95.90" cy="314.80" r="3.0" fill="#e98a1f"/>
<path d="M134.20,311.00 L143.20,311.00 L138.70,319.00 Z" fill="#6a3412"/>
<line x1="137.10" y1="329.60" x2="170.80" y2="329.60" stroke="#9a9a9a" stroke-width="0.6" />
<rect x="143.50" y="326.70" width="19.60" height="5.8" fill="#2b9fd8"/>
<line x1="144.00" y1="329.60" x2="162.60" y2="329.60" stroke="#1b7db5" stroke-width="0.7" opacity="0.75"/>
<circle cx="137.10" cy="329.60" r="3.0" fill="#e98a1f"/>
<path d="M166.30,325.80 L175.30,325.80 L170.80,333.80 Z" fill="#6a3412"/>
<line x1="249.80" y1="343.80" x2="300.30" y2="343.80" stroke="#9a9a9a" stroke-width="0.6" />
<rect x="256.00" y="340.90" width="40.90" height="5.8" fill="#2b9fd8"/>
<line x1="256.50" y1="343.80" x2="296.40" y2="343.80" stroke="#1b7db5" stroke-width="0.7" opacity="0.75"/>
<circle cx="249.80" cy="343.80" r="3.0" fill="#e98a1f"/>
<polygon points="300.30,340.40 301.59,342.02 303.53,342.75 302.39,344.48 302.30,346.55 300.30,346.00 298.30,346.55 298.21,344.48 297.07,342.75 299.01,342.02" fill="#b80f3c"/>
<line x1="168.60" y1="358.30" x2="206.20" y2="358.30" stroke="#9a9a9a" stroke-width="0.6" />
<rect x="172.90" y="355.40" width="31.10" height="5.8" fill="#2b9fd8"/>
<line x1="173.40" y1="358.30" x2="203.50" y2="358.30" stroke="#1b7db5" stroke-width="0.7" opacity="0.75"/>
<circle cx="168.60" cy="358.30" r="3.0" fill="#e98a1f"/>
<polygon points="206.20,354.90 207.49,356.52 209.43,357.25 208.29,358.98 208.20,361.05 206.20,360.50 204.20,361.05 204.11,358.98 202.97,357.25 204.91,356.52" fill="#b80f3c"/>
<line x1="152.10" y1="373.50" x2="233.20" y2="373.50" stroke="#9a9a9a" stroke-width="0.6" />
<rect x="157.90" y="370.60" width="73.50" height="5.8" fill="#2b9fd8"/>
<line x1="158.40" y1="373.50" x2="230.90" y2="373.50" stroke="#1b7db5" stroke-width="0.7" opacity="0.75"/>
<circle cx="152.10" cy="373.50" r="3.0" fill="#e98a1f"/>
<polygon points="233.20,370.10 234.49,371.72 236.43,372.45 235.29,374.18 235.20,376.25 233.20,375.70 231.20,376.25 231.11,374.18 229.97,372.45 231.91,371.72" fill="#b80f3c"/>
<line x1="115.60" y1="388.30" x2="169.00" y2="388.30" stroke="#9a9a9a" stroke-width="0.6" />
<rect x="121.90" y="385.40" width="44.10" height="5.8" fill="#2b9fd8"/>
<line x1="122.40" y1="388.30" x2="165.50" y2="388.30" stroke="#1b7db5" stroke-width="0.7" opacity="0.75"/>
<circle cx="115.60" cy="388.30" r="3.0" fill="#e98a1f"/>
<polygon points="169.00,384.90 170.29,386.52 172.23,387.25 171.09,388.98 171.00,391.05 169.00,390.50 167.00,391.05 166.91,388.98 165.77,387.25 167.71,386.52" fill="#b80f3c"/>
<circle cx="248.70" cy="242.10" r="3.0" fill="#e98a1f"/>
<text x="255.10" y="244.80" font-size="7.1" text-anchor="start" fill="#222" font-weight="normal" stroke="#222" stroke-width="0.14" >First positive CMV PCR</text>
<path d="M245.80,251.20 L251.60,251.20 L248.70,256.30 Z" fill="#6a3412"/>
<text x="255.10" y="256.30" font-size="7.1" text-anchor="start" fill="#222" font-weight="normal" stroke="#222" stroke-width="0.14" >Death</text>
<rect x="245.8" y="261.9" width="5.8" height="5.8" fill="#2b9fd8"/>
<text x="255.10" y="267.50" font-size="7.1" text-anchor="start" fill="#222" font-weight="normal" stroke="#222" stroke-width="0.14" >Valganciclovir</text>
<rect x="245.8" y="273.1" width="5.8" height="5.8" fill="#2f9f3a"/>
<text x="255.10" y="278.70" font-size="7.1" text-anchor="start" fill="#222" font-weight="normal" stroke="#222" stroke-width="0.14" >Foscarnet</text>
<polygon points="248.70,284.10 250.02,285.68 251.93,286.45 250.84,288.20 250.70,290.25 248.70,289.75 246.70,290.25 246.56,288.20 245.47,286.45 247.38,285.68" fill="#b80f3c"/>
<text x="255.10" y="290.10" font-size="7.1" text-anchor="start" fill="#222" font-weight="normal" stroke="#222" stroke-width="0.14" >CMV PCR clearance</text>
<line x1="403.50" y1="270.30" x2="403.50" y2="396.20" stroke="#1c1c1c" stroke-width="1.2" />
<line x1="403.00" y1="395.70" x2="498.60" y2="395.70" stroke="#1c1c1c" stroke-width="1.2" />
<line x1="400.70" y1="395.70" x2="403.50" y2="395.70" stroke="#1c1c1c" stroke-width="1.0" />
<text x="397.80" y="398.25" font-size="8" text-anchor="end" fill="#333" font-weight="normal" stroke="#333" stroke-width="0.14" >0</text>
<line x1="401.90" y1="389.88" x2="403.50" y2="389.88" stroke="#1c1c1c" stroke-width="1.0" />
<line x1="401.90" y1="384.06" x2="403.50" y2="384.06" stroke="#1c1c1c" stroke-width="1.0" />
<line x1="401.90" y1="378.24" x2="403.50" y2="378.24" stroke="#1c1c1c" stroke-width="1.0" />
<line x1="401.90" y1="372.42" x2="403.50" y2="372.42" stroke="#1c1c1c" stroke-width="1.0" />
<line x1="401.90" y1="366.60" x2="403.50" y2="366.60" stroke="#1c1c1c" stroke-width="1.0" />
<line x1="401.90" y1="360.78" x2="403.50" y2="360.78" stroke="#1c1c1c" stroke-width="1.0" />
<line x1="401.90" y1="354.96" x2="403.50" y2="354.96" stroke="#1c1c1c" stroke-width="1.0" />
<line x1="401.90" y1="349.14" x2="403.50" y2="349.14" stroke="#1c1c1c" stroke-width="1.0" />
<line x1="401.90" y1="343.32" x2="403.50" y2="343.32" stroke="#1c1c1c" stroke-width="1.0" />
<line x1="400.70" y1="337.50" x2="403.50" y2="337.50" stroke="#1c1c1c" stroke-width="1.0" />
<text x="397.80" y="340.05" font-size="8" text-anchor="end" fill="#333" font-weight="normal" stroke="#333" stroke-width="0.14" >50</text>
<line x1="401.90" y1="331.68" x2="403.50" y2="331.68" stroke="#1c1c1c" stroke-width="1.0" />
<line x1="401.90" y1="325.86" x2="403.50" y2="325.86" stroke="#1c1c1c" stroke-width="1.0" />
<line x1="401.90" y1="320.04" x2="403.50" y2="320.04" stroke="#1c1c1c" stroke-width="1.0" />
<line x1="401.90" y1="314.22" x2="403.50" y2="314.22" stroke="#1c1c1c" stroke-width="1.0" />
<line x1="401.90" y1="308.40" x2="403.50" y2="308.40" stroke="#1c1c1c" stroke-width="1.0" />
<line x1="401.90" y1="302.58" x2="403.50" y2="302.58" stroke="#1c1c1c" stroke-width="1.0" />
<line x1="401.90" y1="296.76" x2="403.50" y2="296.76" stroke="#1c1c1c" stroke-width="1.0" />
<line x1="401.90" y1="290.94" x2="403.50" y2="290.94" stroke="#1c1c1c" stroke-width="1.0" />
<line x1="401.90" y1="285.12" x2="403.50" y2="285.12" stroke="#1c1c1c" stroke-width="1.0" />
<line x1="400.70" y1="279.30" x2="403.50" y2="279.30" stroke="#1c1c1c" stroke-width="1.0" />
<text x="397.80" y="281.85" font-size="8" text-anchor="end" fill="#333" font-weight="normal" stroke="#333" stroke-width="0.14" >100</text>
<line x1="401.90" y1="273.48" x2="403.50" y2="273.48" stroke="#1c1c1c" stroke-width="1.0" />
<text transform="translate(378.50,337.60) rotate(-90)" x="0" y="0" font-size="8.8" text-anchor="middle" fill="#222" stroke="#222" stroke-width="0.15" textLength="39" lengthAdjust="spacingAndGlyphs">% of Patients</text>
<rect x="417.8" y="280.2" width="23.8" height="31.90" fill="#31a6e0"/>
<rect x="417.8" y="312.1" width="23.8" height="83.60" fill="#33a92f"/>
<rect x="460.1" y="280.2" width="23.8" height="78.00" fill="#31a6e0"/>
<rect x="460.1" y="358.2" width="23.8" height="37.50" fill="#33a92f"/>
<line x1="403.00" y1="395.70" x2="498.60" y2="395.70" stroke="#1c1c1c" stroke-width="1.2" />
<line x1="429.60" y1="395.60" x2="429.60" y2="398.60" stroke="#1c1c1c" stroke-width="1.0" />
<line x1="472.00" y1="395.60" x2="472.00" y2="398.60" stroke="#1c1c1c" stroke-width="1.0" />
<text x="429.60" y="298.75" font-size="8" text-anchor="middle" fill="#fff" font-weight="normal" stroke="#fff" stroke-width="0.14" >27</text>
<text x="429.60" y="356.65" font-size="8" text-anchor="middle" fill="#fff" font-weight="normal" stroke="#fff" stroke-width="0.14" >73</text>
<text x="472.00" y="321.85" font-size="8" text-anchor="middle" fill="#fff" font-weight="normal" stroke="#fff" stroke-width="0.14" >67</text>
<text x="472.00" y="379.75" font-size="8" text-anchor="middle" fill="#fff" font-weight="normal" stroke="#fff" stroke-width="0.14" >33</text>
<text x="429.60" y="409.70" font-size="7.8" text-anchor="middle" fill="#333" font-weight="normal" stroke="#333" stroke-width="0.14" >No CMV</text>
<text x="429.60" y="418.40" font-size="7.8" text-anchor="middle" fill="#333" font-weight="normal" stroke="#333" stroke-width="0.14" >DNAemia</text>
<text x="472.00" y="409.70" font-size="7.8" text-anchor="middle" fill="#333" font-weight="normal" stroke="#333" stroke-width="0.14" >CMV</text>
<text x="472.00" y="418.40" font-size="7.8" text-anchor="middle" fill="#333" font-weight="normal" stroke="#333" stroke-width="0.14" >DNAemia</text>
<rect x="425.8" y="249.2" width="5.7" height="5.7" fill="#33a92f"/>
<text x="434.60" y="254.60" font-size="7.2" text-anchor="start" fill="#222" font-weight="normal" stroke="#222" stroke-width="0.14" >No infections</text>
<rect x="425.8" y="260.6" width="5.7" height="5.7" fill="#31a6e0"/>
<text x="434.60" y="266.00" font-size="7.2" text-anchor="start" fill="#222" font-weight="normal" stroke="#222" stroke-width="0.14" >Infections</text>
<rect x="0.5" y="0.5" width="519" height="430" fill="none" stroke="#5c5c5c" stroke-width="1"/>
</svg>
</body></html>
